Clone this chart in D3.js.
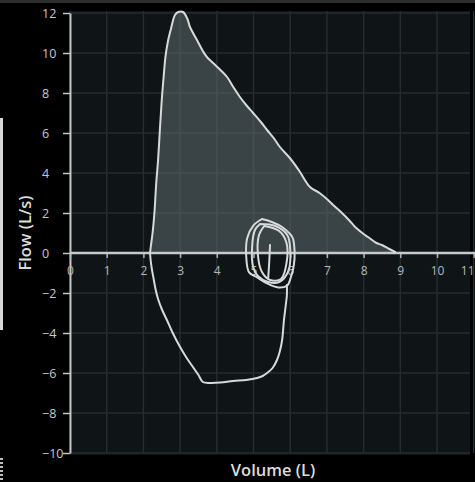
<!DOCTYPE html>
<html>
<head>
<meta charset="utf-8">
<script src="https://cdn.jsdelivr.net/npm/d3@7"></script>
<style>
html,body{margin:0;padding:0;background:#000;}
svg{display:block;}
</style>
</head>
<body>
<svg id="chart" width="475" height="482"></svg>
<script>
// ---- data ----
const xTicks = [0,1,2,3,4,5,6,7,8,9,10,11];
const yTicks = [-10,-8,-6,-4,-2,0,2,4,6,8,10,12];
const xTitle = "Volume (L)";
const yTitle = "Flow (L/s)";

// expiratory limb [volume, flow]
const expiratory = [[2.18,0],[2.2,0.3],[2.25,1.0],[2.3,2.0],[2.35,3.5],[2.4,4.65],[2.45,6.2],[2.5,7.65],[2.56,9.0],[2.6,9.8],[2.67,10.6],[2.75,11.2],[2.86,11.9],[2.95,12.05],[3.08,12.05],[3.2,11.7],[3.27,11.3],[3.46,10.65],[3.62,10.1],[3.73,9.8],[3.9,9.5],[4.1,9.15],[4.28,8.8],[4.45,8.3],[4.63,7.8],[4.8,7.4],[4.99,7.0],[5.2,6.55],[5.37,6.15],[5.55,5.75],[5.72,5.3],[5.99,4.75],[6.25,4.1],[6.54,3.3],[6.8,3.0],[7.03,2.65],[7.2,2.35],[7.41,2.0],[7.6,1.65],[7.77,1.3],[8.0,0.95],[8.12,0.8],[8.35,0.5],[8.5,0.4],[8.7,0.2],[8.86,0.05]];

// inspiratory limb [volume, flow]
const inspiratory = [[2.18,0],[2.2,-0.4],[2.23,-0.8],[2.28,-1.3],[2.33,-1.8],[2.4,-2.3],[2.5,-2.8],[2.64,-3.35],[2.8,-4.0],[3.0,-4.7],[3.18,-5.25],[3.35,-5.7],[3.5,-6.1],[3.62,-6.45],[3.81,-6.5],[4.1,-6.48],[4.44,-6.4],[4.8,-6.35],[5.1,-6.25],[5.25,-6.15],[5.37,-6.0],[5.52,-5.75],[5.64,-5.35],[5.72,-4.9],[5.78,-4.35],[5.83,-3.35],[5.88,-2.6],[5.91,-2.1],[5.91,-1.6]];

// tidal breathing loops [volume, flow]
const tidalA = [[5.23,1.7],[5.5,1.55],[5.78,1.3],[5.98,0.98],[6.07,0.75],[6.12,0.05],[6.1,-0.6],[6.02,-1.2],[5.92,-1.62],[5.67,-1.72],[5.37,-1.52],[5.1,-1.22],[4.88,-0.97],[4.8,-0.1],[4.83,0.75],[5.0,1.38],[5.23,1.7]];
const tidalB = [[5.18,1.45],[5.04,1.15],[4.96,0.25],[4.99,-0.7],[5.12,-1.15],[5.4,-1.45],[5.7,-1.45],[5.95,-0.9],[6.0,0.2],[5.92,0.9],[5.6,1.35],[5.18,1.45]];
const tidalC = [[5.29,1.35],[5.15,0.9],[5.12,-0.1],[5.23,-0.95],[5.45,-1.35],[5.75,-1.3],[5.9,-0.5],[5.9,0.5],[5.7,1.1],[5.29,1.35]];
const tidalD = [[5.45,0.4],[5.43,-0.4],[5.4,-1.25]];

// ---- drawing ----
const svg = d3.select("#chart");
const W = 475, H = 482;
const x = d3.scaleLinear().domain([0,11]).range([70, 473.7]);
const y = d3.scaleLinear().domain([-10,12]).range([453, 13]);

svg.append("rect").attr("width",W).attr("height",H).attr("fill","#000");
svg.append("rect").attr("x",0).attr("y",0).attr("width",W).attr("height",3).attr("fill","#2c2c2c");
// left edge artifact
svg.append("rect").attr("x",0).attr("y",118).attr("width",3).attr("height",212).attr("fill","#d8d8d8");
svg.append("line").attr("x1",1.5).attr("x2",1.5).attr("y1",458).attr("y2",482)
  .attr("stroke","#bbb").attr("stroke-width",3).attr("stroke-dasharray","2,2");

// plot background
svg.append("rect").attr("x",70).attr("y",11).attr("width",400).attr("height",444).attr("fill","#0f1416");

const grid = svg.append("g");
grid.selectAll("line.v").data(xTicks).join("line")
  .attr("x1",d=>x(d)).attr("x2",d=>x(d)).attr("y1",11).attr("y2",453)
  .attr("stroke","#252d30").attr("stroke-width",1.5);
grid.selectAll("line.h").data(yTicks).join("line")
  .attr("x1",70).attr("x2",470).attr("y1",d=>y(d)).attr("y2",d=>y(d))
  .attr("stroke","#252d30").attr("stroke-width",1.5);

// fill under expiratory
const area = d3.area().x(d=>x(d[0])).y0(y(0)).y1(d=>y(d[1])).curve(d3.curveCatmullRom);
svg.append("path").datum(expiratory).attr("d",area)
  .attr("fill","#5e6b70").attr("fill-opacity",0.55);

// axes
const yAxis = d3.axisLeft(y).tickValues(yTicks).tickSize(7).tickSizeOuter(0).tickPadding(4);
const gy = svg.append("g").attr("transform","translate(70,0)").call(yAxis);
gy.select(".domain").attr("stroke","#c4c4c4").attr("stroke-width",2);
gy.selectAll(".tick line").attr("stroke","#c4c4c4").attr("stroke-width",1.5);
gy.selectAll(".tick text").attr("x",-28).attr("text-anchor","start")
  .attr("fill","#c8c8c8").style("font-family","'Open Sans', sans-serif").style("font-size","12.5px");

const line = d3.line().x(d=>x(d[0])).y(d=>y(d[1])).curve(d3.curveCatmullRom);

const xAxis = d3.axisBottom(x).tickValues(xTicks).tickSize(5).tickSizeOuter(0).tickPadding(8);
const gx = svg.append("g").attr("transform",`translate(0,${y(0)})`).call(xAxis);
gx.select(".domain").remove();
gx.append("line").attr("x1",70).attr("x2",W).attr("y1",0).attr("y2",0)
  .attr("stroke","#c6caca").attr("stroke-width",2.5);
gx.selectAll(".tick line").attr("stroke","#b0b4b4").attr("stroke-width",1.5);
gx.selectAll(".tick text").attr("fill","#b8b8b8")
  .style("font-family","'Open Sans', sans-serif").style("font-size","12px");
// keep the last label inside the picture
gx.selectAll(".tick text").filter(d=>d===xTicks[xTicks.length-1])
  .attr("text-anchor","end").attr("x", W - 1 - x(xTicks[xTicks.length-1]));

// curves
const curves = svg.append("g").attr("fill","none").attr("stroke","#d6dada")
  .attr("stroke-width",2).attr("stroke-linejoin","round").attr("stroke-linecap","round");
[expiratory, inspiratory, tidalA, tidalB, tidalC, tidalD].forEach(s=>{
  curves.append("path").datum(s).attr("d",line);
});

// titles
svg.append("text").attr("x",273).attr("y",476).attr("text-anchor","middle")
  .attr("fill","#dcdcdc").style("font-family","'Open Sans', sans-serif")
  .style("font-size","16.5px").style("font-weight","600").text(xTitle);
svg.append("text").attr("transform","translate(31,233) rotate(-90)").attr("text-anchor","middle")
  .attr("fill","#dcdcdc").style("font-family","'Open Sans', sans-serif")
  .style("font-size","16.5px").style("font-weight","600").text(yTitle);
</script>
</body>
</html>
